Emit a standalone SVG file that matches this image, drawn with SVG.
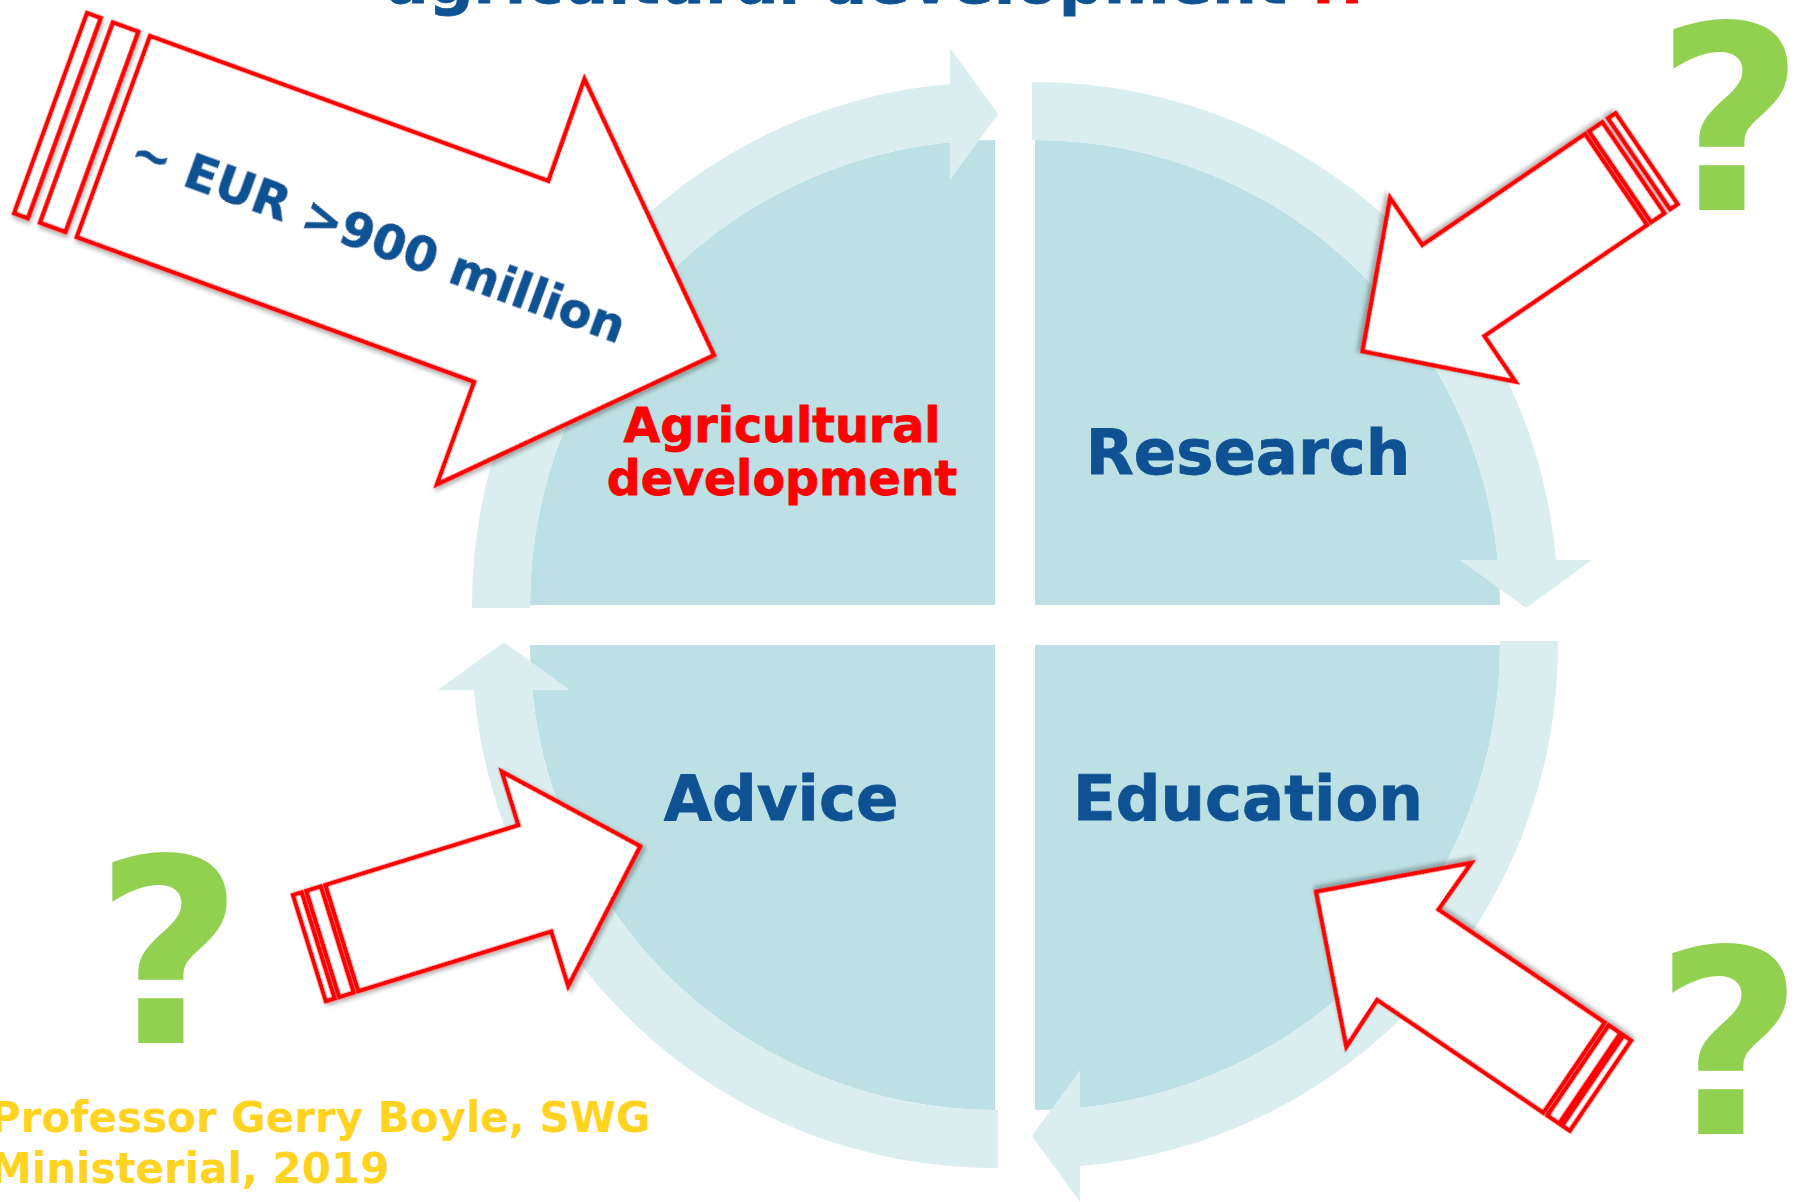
<svg xmlns="http://www.w3.org/2000/svg" width="1795" height="1202" viewBox="0 0 1795 1202">
  <defs>
    <style>
      .fill { fill: #BCE0E3; }
      .ring { fill: #DAEDEF; }
      .red { fill: #FFFFFF; stroke: #FF0000; stroke-width: 4.5; stroke-linejoin: miter; }
      .lbl { font-family: "DejaVu Sans", Verdana, sans-serif; font-weight: bold; stroke-width: 0.8; }
      .blue { fill: #0F5294; stroke: #0F5294; }
      .rtxt { fill: #FF0000; stroke: #FF0000; }
      .q { font-family: "DejaVu Sans", Verdana, sans-serif; font-weight: bold; font-size: 256px; fill: #92D050; text-anchor: middle; }
      .cite { font-family: "DejaVu Sans", Verdana, sans-serif; font-weight: bold; font-size: 42px; fill: #FFD320; }
    </style>
    <filter id="sh" x="-10%" y="-10%" width="130%" height="130%">
      <feDropShadow dx="2" dy="3" stdDeviation="2" flood-color="#000000" flood-opacity="0.3"/>
    </filter>
  </defs>
  <rect width="1795" height="1202" fill="#FFFFFF"/>

  <g id="title">
    <text class="lbl blue" x="386" y="3" font-size="63">agricultural development <tspan class="rtxt">!!</tspan></text>
  </g>

  <g id="quad-agri">
    <path class="fill" d="M995,605 L530,605 A465,465 0 0 1 995,140 Z"/>
  </g>
  <g id="quad-research">
    <path class="fill" d="M1035,605 L1035,140 A465,465 0 0 1 1500,605 Z"/>
  </g>
  <g id="quad-education">
    <path class="fill" d="M1035,645 L1500,645 A465,465 0 0 1 1035,1110 Z"/>
  </g>
  <g id="quad-advice">
    <path class="fill" d="M995,645 L995,1110 A465,465 0 0 1 530,645 Z"/>
  </g>

  <g id="connectors">
    <path class="ring" d="M472,608 L472,605 A523,523 0 0 1 950,83.94 L950,48 L998,114 L950,180 L950,142.2 A465,465 0 0 0 530,605 L530,608 Z"/>
    <path class="ring" d="M1032,82 L1035,82 A523,523 0 0 1 1556.06,560 L1592,560 L1526,608 L1460,560 L1497.8,560 A465,465 0 0 0 1035,140 L1032,140 Z"/>
    <path class="ring" d="M1500,641 L1558,641 L1558,645 A523,523 0 0 1 1080,1166.06 L1080,1202 L1032,1136 L1080,1070 L1080,1107.8 A465,465 0 0 0 1500,645 Z"/>
    <path class="ring" d="M998,1168 L995,1168 A523,523 0 0 1 473.94,690 L438,690 L504,642 L570,690 L532.2,690 A465,465 0 0 0 995,1110 L998,1110 Z"/>
  </g>

  <g id="label-agri">
    <text class="lbl rtxt" x="782" y="442" font-size="47.5" text-anchor="middle">Agricultural</text>
    <text class="lbl rtxt" x="782" y="495" font-size="47.5" text-anchor="middle">development</text>
  </g>
  <g id="label-research">
    <text class="lbl blue" x="1248" y="474" font-size="62.5" text-anchor="middle">Research</text>
  </g>
  <g id="label-advice">
    <text class="lbl blue" x="781" y="820" font-size="62.5" text-anchor="middle">Advice</text>
  </g>
  <g id="label-education">
    <text class="lbl blue" x="1248" y="820" font-size="62.5" text-anchor="middle">Education</text>
  </g>

  <g id="arrow-eur" transform="translate(150,36) rotate(20)" filter="url(#sh)">
    <rect class="red" x="-67" y="0" width="14.5" height="213"/>
    <rect class="red" x="-39.5" y="0" width="27" height="213"/>
    <path class="red" d="M0,0 L424,0 L423,-108 L639,107 L423,323 L423,214 L0,214 Z"/>
    <text class="lbl blue" x="284" y="129" font-size="48" text-anchor="middle">~ EUR &gt;900 million</text>
  </g>

  <g id="arrow-research" transform="translate(1647,225) rotate(145.7)" filter="url(#sh)">
    <rect class="red" x="-37" y="0" width="9" height="110"/>
    <rect class="red" x="-21" y="0" width="16" height="110"/>
    <path class="red" d="M0,0 L197,0 L197,-55 L306,56 L197,167 L197,110 L0,110 Z"/>
  </g>

  <g id="arrow-advice" transform="translate(325.5,885) rotate(-17.2)" filter="url(#sh)">
    <rect class="red" x="-34" y="0" width="9" height="111"/>
    <rect class="red" x="-20" y="0" width="15" height="111"/>
    <path class="red" d="M0,0 L202,0 L202,-56 L312,56 L202,168 L202,111 L0,111 Z"/>
  </g>

  <g id="arrow-education" transform="translate(1543.3,1112.7) rotate(-145.8)" filter="url(#sh)">
    <rect class="red" x="-32" y="0" width="9" height="109"/>
    <rect class="red" x="-19" y="0" width="14" height="109"/>
    <path class="red" d="M0,0 L201,0 L200,-56 L312,55 L200,166 L201,109 L0,109 Z"/>
  </g>

  <g id="question-research"><text class="q" x="1730" y="210">?</text></g>
  <g id="question-advice"><text class="q" x="169" y="1043">?</text></g>
  <g id="question-education"><text class="q" x="1729" y="1134">?</text></g>

  <g id="citation">
    <text class="cite" x="-10" y="1132">Professor Gerry Boyle, SWG</text>
    <text class="cite" x="-10" y="1183">Ministerial, 2019</text>
  </g>
</svg>
